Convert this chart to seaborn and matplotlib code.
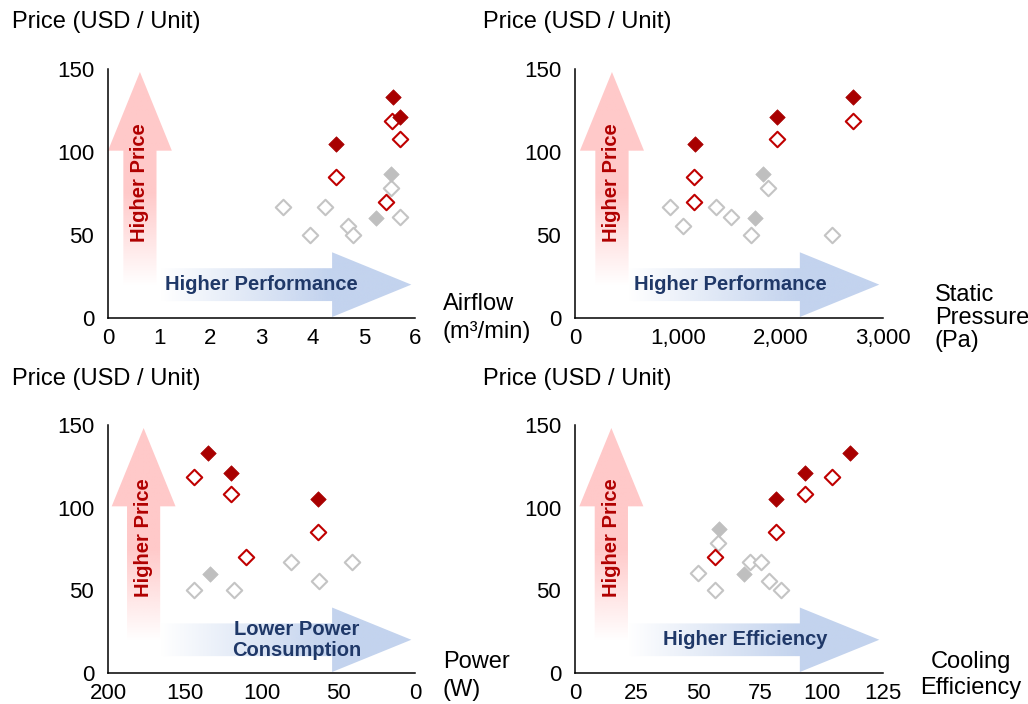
import numpy as np
import pandas as pd
import matplotlib
matplotlib.use("Agg")
import matplotlib.pyplot as plt
import seaborn as sns
from matplotlib.patches import Polygon
from matplotlib.colors import to_rgb

# ---------------- data ----------------
groups = ["red_filled", "red_open", "gray_filled", "gray_open"]

price_red_filled = [133, 121, 105]
price_red_open = [118.5, 108, 85, 70]
price_gray_filled = [87, 60]
price_gray_open = [78.5, 67, 67, 60.6, 55.5, 50, 50]

airflow_red_filled = [5.57, 5.71, 4.46]
airflow_red_open = [5.56, 5.71, 4.46, 5.44]
airflow_gray_filled = [5.54, 5.24]
airflow_gray_open = [5.54, 3.42, 4.25, 5.70, 4.69, 3.95, 4.79]

pressure_red_filled = [2710, 1965, 1170]
pressure_red_open = [2710, 1965, 1160, 1160]
pressure_gray_filled = [1835, 1755]
pressure_gray_open = [1883, 925, 1370, 1520, 1055, 1711, 2506]

power_red_filled = [135, 120, 63]
power_red_open = [144, 120, 63, 110]
power_gray_filled = [np.nan, 133.5]
power_gray_open = [np.nan, 81, 41, np.nan, 62.5, 144, 118]

eff_red_filled = [111.5, 93.5, 81.5]
eff_red_open = [104.5, 93.5, 81.5, 57]
eff_gray_filled = [58.5, 68.5]
eff_gray_open = [58, 71, 75.5, 50, 78.7, 57, 83.5]

y_ticks = [0, 50, 100, 150]
airflow_ticks = [0, 1, 2, 3, 4, 5, 6]
pressure_ticks = [0, 1000, 2000, 3000]
pressure_tick_labels = ["0", "1,000", "2,000", "3,000"]
power_ticks = [200, 150, 100, 50, 0]
eff_ticks = [0, 25, 50, 75, 100, 125]

rows = []
src = {
    "red_filled": (price_red_filled, airflow_red_filled, pressure_red_filled, power_red_filled, eff_red_filled),
    "red_open": (price_red_open, airflow_red_open, pressure_red_open, power_red_open, eff_red_open),
    "gray_filled": (price_gray_filled, airflow_gray_filled, pressure_gray_filled, power_gray_filled, eff_gray_filled),
    "gray_open": (price_gray_open, airflow_gray_open, pressure_gray_open, power_gray_open, eff_gray_open),
}
for g, (pr, af, ps, pw, ef) in src.items():
    for i in range(len(pr)):
        rows.append(dict(group=g, price=pr[i], airflow=af[i], pressure=ps[i], power=pw[i], efficiency=ef[i]))
df = pd.DataFrame(rows)

# ---------------- style ----------------
sns.set_style("white")
plt.rcParams["font.family"] = ["Liberation Sans", "DejaVu Sans"]
plt.rcParams["text.color"] = "black"

styles = {
    "gray_open": dict(facecolor="white", edgecolor="#c4c4c4", linewidth=1.5, zorder=3),
    "gray_filled": dict(facecolor="#bfbfbf", edgecolor="#bfbfbf", linewidth=0.5, zorder=4),
    "red_open": dict(facecolor="white", edgecolor="#c00000", linewidth=1.5, zorder=5),
    "red_filled": dict(facecolor="#a80000", edgecolor="#a80000", linewidth=0.5, zorder=6),
}

PINK = "#ffc9c9"
BLUE = "#c3d3ee"
RED_TXT = "#b00000"
NAVY_TXT = "#1f3868"
TICK_FS = 16
LABEL_FS = 17
ARROW_FS = 14.5

fig = plt.figure(figsize=(10.28, 7.04), dpi=100)

W, H = 1028, 704
def pos(l, r, t, b):
    return [l / W, 1 - b / H, (r - l) / W, (b - t) / H]

panels = [
    dict(pos=pos(108, 415, 69, 318), x="airflow", xlim=(0, 6), ticks=airflow_ticks,
         labels=[str(t) for t in airflow_ticks], hx=0.50, htext="Higher Performance",
         xlabel="Airflow\n(m³/min)", xl_xy=(443, 318), xl_ha="left", vcx=0.104, ls=1.3),
    dict(pos=pos(575, 883, 69, 318), x="pressure", xlim=(0, 3000), ticks=pressure_ticks,
         labels=pressure_tick_labels, hx=0.506, htext="Higher Performance",
         xlabel="Static\nPressure\n(Pa)", xl_xy=(935, 318), xl_ha="left", vcx=0.12, ls=1.05),
    dict(pos=pos(108, 415, 425, 673), x="power", xlim=(200, 0), ticks=power_ticks,
         labels=[str(t) for t in power_ticks], hx=0.615, htext="Lower Power\nConsumption",
         xlabel="Power\n(W)", xl_xy=(443, 676), xl_ha="left", vcx=0.116, ls=1.3),
    dict(pos=pos(575, 883, 425, 673), x="efficiency", xlim=(0, 125), ticks=eff_ticks,
         labels=[str(t) for t in eff_ticks], hx=0.552, htext="Higher Efficiency",
         xlabel="Cooling\nEfficiency", xl_xy=(971, 675), xl_ha="center", vcx=0.118, ls=1.2),
]


def grad_arrow(dax, verts, color, direction, start, end):
    poly = Polygon(verts, closed=True, facecolor="none", edgecolor="none")
    dax.add_patch(poly)
    n = 256
    img = np.ones((n, n, 4))
    img[..., :3] = to_rgb(color)
    t = np.linspace(0, 1, n)
    alpha = np.clip((t - start) / (end - start), 0, 1)
    if direction == "v":
        img[..., 3] = alpha[:, None]
    else:
        img[..., 3] = alpha[None, :]
    im = dax.imshow(img, extent=[0, 1, 0, 1], origin="lower", aspect="auto",
                    interpolation="bilinear", zorder=1)
    im.set_clip_path(poly)


for p in panels:
    # decoration axes (behind)
    dax = fig.add_axes(p["pos"], zorder=0)
    dax.set_xlim(0, 1)
    dax.set_ylim(0, 1)
    dax.axis("off")

    # horizontal arrow
    sy0, sy1 = 0.068, 0.200
    hverts = [(0.165, sy0), (0.73, sy0), (0.73, 0.004), (0.988, 0.134),
              (0.73, 0.264), (0.73, sy1), (0.165, sy1)]
    grad_arrow(dax, hverts, BLUE, "h", 0.17, 0.72)
    # vertical arrow
    cx = p["vcx"]
    vverts = [(cx - 0.054, 0.13), (cx + 0.054, 0.13), (cx + 0.054, 0.672),
              (cx + 0.104, 0.672), (cx, 0.988), (cx - 0.104, 0.672), (cx - 0.054, 0.672)]
    grad_arrow(dax, vverts, PINK, "v", 0.13, 0.50)
    dax.set_xlim(0, 1)
    dax.set_ylim(0, 1)

    dax.text(cx, 0.545, "Higher Price", rotation=90, ha="center", va="center",
             color=RED_TXT, fontsize=ARROW_FS, fontweight="bold", zorder=3)
    dax.text(p["hx"], 0.134, p["htext"], ha="center", va="center", color=NAVY_TXT,
             fontsize=ARROW_FS, fontweight="bold", linespacing=1.15, zorder=3)

    # data axes
    ax = fig.add_axes(p["pos"], zorder=1)
    ax.patch.set_visible(False)
    for g in groups:
        sub = df[df["group"] == g]
        sns.scatterplot(data=sub, x=p["x"], y="price", marker="D", s=62,
                        legend=False, ax=ax, **styles[g])
    ax.set_xlim(*p["xlim"])
    ax.set_ylim(0, 150)
    ax.set_xticks(p["ticks"])
    ax.set_xticklabels(p["labels"])
    ax.set_yticks(y_ticks)
    ax.set_xlabel("")
    ax.set_ylabel("")
    for s in ["top", "right"]:
        ax.spines[s].set_visible(False)
    for s in ["left", "bottom"]:
        ax.spines[s].set_color("black")
        ax.spines[s].set_linewidth(1.1)
    ax.tick_params(axis="both", length=0, labelsize=TICK_FS, colors="black")
    ax.tick_params(axis="y", pad=10)
    ax.tick_params(axis="x", pad=7)

    fig.text(p["xl_xy"][0] / W, 1 - p["xl_xy"][1] / H, p["xlabel"], ha=p["xl_ha"],
             va="center", fontsize=LABEL_FS, linespacing=p["ls"], color="black",
             multialignment="center" if p["xl_ha"] == "center" else "left")

for (lx, ly) in [(12, 22), (483, 22), (12, 379), (483, 379)]:
    fig.text(lx / W, 1 - ly / H, "Price (USD / Unit)", ha="left", va="center",
             fontsize=LABEL_FS, color="black")

fig.savefig("out.png", dpi=100)
